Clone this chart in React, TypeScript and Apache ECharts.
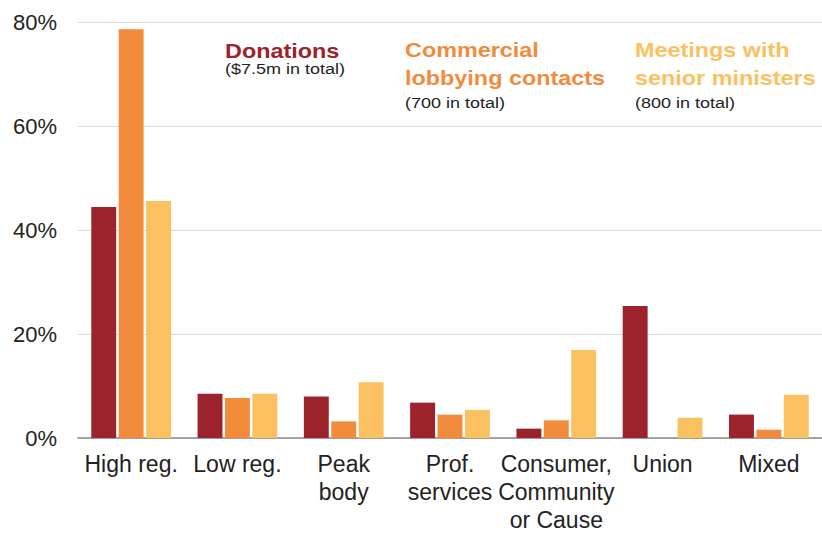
import React, { useEffect, useRef } from "react";
import * as echarts from "echarts";

const categories = ["High reg.", "Low reg.", "Peak\nbody", "Prof.\nservices", "Consumer,\nCommunity\nor Cause", "Union", "Mixed"];
const donations = [44.4, 8.5, 8.0, 6.8, 1.8, 25.4, 4.5];
const lobbying = [78.6, 7.7, 3.2, 4.5, 3.4, 0, 1.6];
const meetings = [45.6, 8.5, 10.7, 5.4, 16.9, 3.9, 8.3];
const yTicks = [0, 20, 40, 60, 80];

const C_DON = "#9C222B";
const C_LOB = "#F28B3C";
const C_MEET = "#FBC060";

export default function App() {
  const ref = useRef<HTMLDivElement>(null);
  useEffect(() => {
    if (!ref.current) return;
    const chart = echarts.init(ref.current, null, { renderer: "svg" });
    const font = "'Liberation Sans', Arial, sans-serif";
    const sx = 1.17;
    chart.setOption({
      animation: false,
      textStyle: { fontFamily: font },
      grid: { left: 78, right: 0, top: 22, bottom: 85, containLabel: false },
      xAxis: {
        type: "category",
        data: categories,
        axisLine: { lineStyle: { color: "#8a8a8a", width: 1.5 } },
        axisTick: { show: false },
        axisLabel: { color: "#222", fontSize: 23, lineHeight: 28, margin: 12, interval: 0, fontFamily: font },
      },
      yAxis: {
        type: "value",
        min: yTicks[0],
        max: yTicks[yTicks.length - 1],
        interval: 20,
        axisLine: { show: false },
        axisTick: { show: false },
        splitLine: { lineStyle: { color: "#d9d9d9", width: 1.2 } },
        axisLabel: { color: "#222", fontSize: 22, margin: 21, formatter: "{value}%", fontFamily: font },
      },
      series: [
        { name: "Donations", type: "bar", data: donations, itemStyle: { color: C_DON }, barGap: "10%", barCategoryGap: "25%" },
        { name: "Commercial lobbying contacts", type: "bar", data: lobbying, itemStyle: { color: C_LOB } },
        { name: "Meetings with senior ministers", type: "bar", data: meetings, itemStyle: { color: C_MEET } },
      ],
      graphic: [
        { type: "text", x: 225, y: 41, scaleX: sx, style: { text: "Donations", fill: C_DON, font: `bold 20px ${font}`, verticalAlign: "top" } },
        { type: "text", x: 225, y: 62, scaleX: 1.2, style: { text: "($7.5m in total)", fill: "#222", font: `15px ${font}`, verticalAlign: "top" } },
        { type: "text", x: 405, y: 36, scaleX: sx, style: { text: "Commercial\nlobbying contacts", fill: C_LOB, font: `bold 20px ${font}`, lineHeight: 28, verticalAlign: "top" } },
        { type: "text", x: 405, y: 96, scaleX: 1.2, style: { text: "(700 in total)", fill: "#222", font: `15px ${font}`, verticalAlign: "top" } },
        { type: "text", x: 635, y: 36, scaleX: sx, style: { text: "Meetings with\nsenior ministers", fill: C_MEET, font: `bold 20px ${font}`, lineHeight: 28, verticalAlign: "top" } },
        { type: "text", x: 635, y: 96, scaleX: 1.2, style: { text: "(800 in total)", fill: "#222", font: `15px ${font}`, verticalAlign: "top" } },
      ],
    });
    return () => chart.dispose();
  }, []);
  return <div ref={ref} style={{ position: "fixed", left: 0, top: 0, width: 822, height: 534, background: "#fff" }} />;
}
